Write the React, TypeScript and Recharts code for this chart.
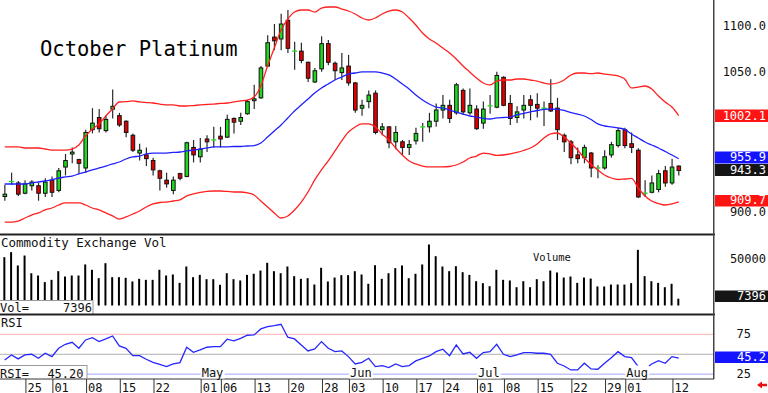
import React from "react";
import { ComposedChart, Bar, Line, XAxis, YAxis, ReferenceLine } from "recharts";

// daily candles, Mar 20 .. Aug 13
const open = [915.5, 931, 930, 919, 927, 927, 919, 933, 922, 947, 961, 955, 946, 987, 1000, 986, 1009, 1002, 996, 981, 962, 960, 954, 943, 933, 922, 940, 937, 968, 958, 977, 975.5, 980, 979, 999, 996, 1004, 1018, 1021, 1055, 1086, 1084, 1104, 1070.5, 1071, 1059, 1038, 1052, 1079, 1058, 1048, 1055, 1037, 1010, 1017, 1026, 987, 990, 974, 974, 968, 975, 989.5, 990, 996, 1008, 1013, 1005, 1029, 1005, 1009, 994, 1012, 1011, 1043, 1015, 1000, 1008, 1019, 1014, 1009.5, 1015, 1010, 981, 974, 960, 957, 962, 945.5, 946, 960, 970, 987, 972, 965, 918.5, 920, 923, 943, 930, 948];
const high = [928, 941, 932, 933, 933, 930, 935, 937, 946, 961, 968, 956, 987, 1010, 1009, 1002, 1030, 1005, 997, 983, 972, 968, 957, 944, 941, 937, 941, 974, 976, 978, 981, 990, 990, 1003, 1000, 1005, 1019, 1035, 1055, 1088, 1100, 1111, 1115, 1081, 1080, 1060, 1053, 1087, 1083, 1060, 1069, 1067, 1038, 1019, 1029, 1029, 994, 991, 991, 976, 976, 989, 994, 1005, 1015, 1024, 1019, 1037, 1031, 1031, 1013, 1017, 1024, 1049, 1044, 1024, 1012, 1024, 1024, 1026, 1017, 1041, 1021, 983, 976, 968, 971, 963, 949, 965, 974, 989, 989, 984, 967, 933, 938, 944, 948, 956, 949];
const low = [911, 928, 916, 918, 922, 911, 915, 915, 920, 938, 951, 940, 941, 983, 984, 984, 999, 990, 979, 963, 954, 948, 938, 922, 925, 918, 933, 936, 952, 952, 963, 968, 968, 978, 983, 992, 1003, 1009, 1020, 1054, 1072, 1072, 1069, 1051, 1058, 1038, 1037, 1049, 1056, 1040, 1040, 1034, 1005, 1002, 1010, 982, 981, 967, 966, 960, 960, 971, 974, 984, 990, 999, 994, 1003, 1003, 1003, 987, 988, 1004, 1010, 1012, 992, 994, 999, 997, 1000, 991, 1006, 976, 963, 950, 951, 951, 936, 935, 944, 957, 968, 967, 962, 914, 915, 919, 920, 926, 928, 938];
const close = [918, 931.5, 918, 929, 931, 919, 931, 920, 943, 954, 963, 951, 984, 994, 988, 998, 1012, 992, 984, 965, 965, 956, 944, 935, 929, 933, 935, 973, 960, 966, 974, 976, 977, 998, 995, 1000, 1017, 1020, 1053, 1080, 1082, 1100, 1074, 1071, 1061, 1042, 1050, 1079, 1059, 1050, 1053, 1037, 1008, 1013, 1024, 984, 990, 973, 984, 968, 971, 983, 990, 996, 1008, 1013, 999, 1035, 1006, 1013, 988, 1009, 1012.5, 1045, 1013, 999, 1006, 1013, 1013, 1010, 1010, 1007, 987, 974, 957, 956, 968, 946, 946, 958, 971, 986, 970, 968, 915, 919, 930, 940, 930, 947, 943.3];

// bollinger bands
const upper = [968.5, 968.5, 968.5, 967.4, 967.4, 967.4, 966.3, 965.2, 965.2, 965.2, 966.3, 970.6, 980.2, 987.7, 993.1, 1001.6, 1009.1, 1016.6, 1016.9, 1017.7, 1016.6, 1016, 1015.5, 1014.4, 1013.4, 1013.4, 1012.3, 1012.3, 1012.8, 1013.4, 1013.9, 1014.4, 1015, 1015.5, 1016.6, 1017.7, 1018.7, 1021.9, 1033.7, 1055.1, 1074.3, 1093.6, 1105.3, 1112.8, 1115, 1115, 1112.8, 1117.1, 1118.2, 1118.2, 1116, 1113.9, 1110.7, 1106.4, 1104.3, 1106.4, 1110.7, 1113.9, 1115, 1112.8, 1106.4, 1098.9, 1090.4, 1084, 1079.7, 1074.3, 1069, 1062.6, 1055.1, 1048.7, 1042.2, 1036.9, 1034.8, 1039, 1040.1, 1040.1, 1041.2, 1041.2, 1040.1, 1039, 1036.9, 1035.8, 1036.9, 1040.1, 1045.5, 1047.6, 1047.6, 1047, 1047.6, 1046.5, 1045.5, 1044.4, 1041.2, 1031.6, 1032.6, 1033.7, 1030.5, 1023, 1016.6, 1011.2, 1002.1];
const middle = [928.9, 928.9, 928.9, 928.9, 930, 931, 932.1, 933.2, 935.3, 936.4, 937.4, 939.6, 941.7, 943.9, 946, 948.1, 950.3, 952.4, 955.6, 957.8, 958.8, 961, 962, 962, 962, 962.6, 963.1, 964.2, 965.2, 966.3, 967.4, 968.5, 968.5, 968.5, 969, 969, 969.5, 970, 972.7, 979.1, 985.6, 992, 999.5, 1007, 1013.4, 1019.8, 1026.2, 1031.6, 1035.8, 1040.1, 1043.3, 1046.5, 1047.6, 1048.7, 1048.7, 1048.7, 1047.6, 1045.5, 1041.2, 1035.8, 1030.5, 1024, 1018.7, 1014.4, 1011.2, 1010.2, 1008, 1005.9, 1003.7, 1001.6, 1000.5, 999, 998.4, 999.5, 1000, 1000.5, 1002.7, 1004.3, 1005.9, 1007.5, 1008.6, 1009.1, 1008.6, 1007.5, 1005.3, 1003.7, 1001.6, 997.9, 993.1, 990.9, 989.9, 988.8, 987.2, 982.4, 978.1, 973.8, 970.6, 967.4, 963.6, 959.9, 955.9];
const lower = [888.2, 888.2, 889.3, 892.5, 895.7, 897.9, 901.1, 903.2, 906.4, 908.6, 908.6, 908.6, 906.4, 903.2, 901.1, 897.9, 894.7, 891.4, 893.6, 896.8, 900, 904.3, 907.5, 909.1, 909.6, 910.7, 911.8, 916.1, 918.2, 919.8, 920.9, 921.4, 921.4, 920.9, 920.3, 920.3, 919.3, 917.1, 910.7, 904.3, 897.9, 892.5, 894.7, 901.1, 909.6, 920.3, 933.2, 943.9, 953.5, 964.2, 974.9, 984.5, 989.9, 993.1, 993.1, 989.9, 982.4, 975.9, 967.4, 959.9, 953.5, 950.3, 948.1, 947.1, 947.1, 947.1, 947.6, 949.2, 952.4, 956.7, 958.8, 962, 961, 959.4, 959.9, 961, 962.6, 964.7, 967.4, 971.7, 978.1, 982.4, 983.4, 979.1, 972.7, 965.2, 956.7, 949.8, 943.9, 938.5, 935.3, 933.7, 934.2, 934.8, 924.6, 916.1, 910.7, 908, 906.4, 907.5, 909.7];

const volume = [52500, 58000, 43500, 54300, 35100, 32600, 25400, 27900, 37300, 31500, 32600, 32600, 44600, 38800, 29700, 46000, 30800, 30800, 30100, 26100, 29000, 27900, 27900, 38800, 32600, 33700, 24600, 42400, 30800, 33300, 28600, 28600, 22500, 35100, 28600, 27200, 33300, 34500, 38000, 46400, 37300, 35100, 42400, 31900, 29000, 29700, 22800, 41000, 26100, 30400, 33000, 33000, 37300, 33700, 23600, 43800, 29000, 35100, 40600, 43500, 29700, 34500, 44600, 66300, 53600, 42400, 37300, 42700, 36200, 33300, 26400, 24300, 21000, 38800, 27900, 27200, 19900, 26400, 19900, 28600, 26400, 38000, 35900, 30400, 31500, 24600, 30400, 29300, 20700, 20700, 22800, 22800, 22800, 24300, 60500, 31900, 26400, 24600, 19900, 23600, 7396];
const rsi = [42.9, 49.2, 44.2, 49.2, 50, 45, 51.3, 47.1, 57.5, 62.5, 65, 57.5, 67.9, 70.8, 65.8, 69.2, 72.9, 60.4, 57.5, 48.3, 48.3, 43.8, 40, 37.5, 34.6, 37.9, 39.6, 58.8, 52.5, 55.4, 58.8, 59.6, 59.6, 68.8, 66.7, 70, 73.8, 74.2, 81.7, 84.6, 85.8, 87.5, 71.3, 69.2, 61.7, 54.2, 56.7, 65.8, 57.5, 53.3, 54.2, 47.1, 37.9, 40, 45, 34.6, 35.8, 33.3, 37.9, 34.6, 35.8, 41.7, 45, 47.9, 53.3, 56.3, 48.3, 61.7, 50.4, 52.5, 45, 52.1, 53.3, 62.5, 50, 47.1, 49.2, 52.1, 52.1, 51.3, 51.3, 50, 38.8, 35.4, 30.4, 30.4, 38.8, 31.7, 31.3, 38.8, 45.8, 53.3, 47.1, 45.8, 34.6, 32, 37.9, 42.1, 38.8, 47.1, 45.2];

// date axis
const dayTicks = [3, 7, 12, 17, 22, 29, 32, 37, 42, 47, 51, 56, 61, 65, 70, 74, 79, 84, 89, 92, 99];
const dayLabels = ["25", "01", "08", "15", "22", "01", "06", "13", "20", "28", "03", "10", "17", "24", "01", "08", "15", "22", "29", "01", "12"];
const monthTicks = [29, 51, 70, 92];
const monthLabels = ["May", "Jun", "Jul", "Aug"];

// 950 and 1000 sit under the value boxes in the original, so only these show
const priceTicks = [900, 1050, 1100];
const volTicks = [0, 25000, 50000];
const rsiTicks = [25, 50, 75];

const rows = open.map((o, i) => ({
  i,
  open: o,
  high: high[i],
  low: low[i],
  close: close[i],
  upper: upper[i],
  middle: middle[i],
  lower: lower[i],
  vol: volume[i],
  rsi: rsi[i],
}));

const last = rows.length - 1;
const X_DOMAIN: [number, number] = [-0.7, 105.24];
const MONO = "'DejaVu Sans Mono', monospace";
const NOMARGIN = { top: 0, right: 0, bottom: 0, left: 0 };

function Candle(props: any) {
  const { x, y, width, height, payload } = props;
  if (x == null || !payload) return null;
  const cx = x + width / 2;
  const top = Math.min(y, y + height);
  const h = Math.abs(height);
  const range = payload.high - payload.low;
  const k = range > 0 ? h / range : 0;
  const yO = top + (payload.high - payload.open) * k;
  const yC = top + (payload.high - payload.close) * k;
  const up = payload.close >= payload.open;
  const bTop = Math.min(yO, yC);
  const bH = Math.abs(yC - yO);
  return (
    <g>
      <line x1={cx} x2={cx} y1={top} y2={top + h} stroke="#2a2a2a" strokeWidth={1.2} />
      {bH < 1.5 ? (
        <line x1={cx - 2.5} x2={cx + 2.5} y1={yC} y2={yC} stroke="#22e022" strokeWidth={1.4} />
      ) : (
        <rect x={cx - 1.8} y={bTop} width={3.6} height={bH} fill={up ? "#1fd81f" : "#e00000"} stroke="#111" strokeWidth={1} />
      )}
    </g>
  );
}

const rightTick = (end: number, fmt: (v: number) => string, dy = 4) => (p: any) => (
  <text x={end} y={p.y} dy={dy} textAnchor="end" fontFamily={MONO} fontSize={12} fill="#111">
    {fmt(p.payload.value)}
  </text>
);

function DateTick(p: any) {
  const v = p.payload.value;
  const k = dayTicks.indexOf(v);
  const m = monthTicks.indexOf(v);
  const x = p.x;
  return (
    <g>
      <line x1={x + 1} x2={x + 1} y1={64} y2={78} stroke="#333" strokeWidth={1} />
      <text x={x + 2.5} y={76.5} fontFamily={MONO} fontSize={12} fill="#111">
        {dayLabels[k]}
      </text>
      {m >= 0 && (
        <g>
          <rect x={x + 0.5} y={50.5} width={24} height={13} fill="#fff" />
          <text x={x + 1.5} y={61.5} fontFamily={MONO} fontSize={12} fill="#111">
            {monthLabels[m]}
          </text>
        </g>
      )}
    </g>
  );
}

function ValueBox({ y, h, fill, text }: { y: number; h: number; fill: string; text: string }) {
  return (
    <g>
      <rect x={715} y={y} width={53} height={h} fill={fill} />
      <text x={766} y={y + h - 2.3} textAnchor="end" fontFamily={MONO} fontSize={12} fill="#fff">
        {text}
      </text>
    </g>
  );
}

export default function App() {
  return (
    <div style={{ position: "absolute", left: 0, top: 0, width: 768, height: 393, background: "#fff", overflow: "hidden" }}>
      <div style={{ position: "absolute", left: 0, top: 0 }}>
        <ComposedChart width={768} height={234} data={rows} margin={NOMARGIN}>
          <XAxis dataKey="i" type="number" domain={X_DOMAIN} allowDataOverflow hide />
          <YAxis
            orientation="right"
            width={54}
            domain={[875.4, 1125.67]}
            allowDataOverflow
            ticks={priceTicks}
            axisLine={false}
            tickLine={false}
            tick={rightTick(766, (v) => v.toFixed(1), 5.5)}
          />
          <Line dataKey="upper" type="monotone" stroke="#ff2020" strokeWidth={1.3} dot={false} activeDot={false} isAnimationActive={false} />
          <Line dataKey="middle" type="monotone" stroke="#2020ff" strokeWidth={1.3} dot={false} activeDot={false} isAnimationActive={false} />
          <Line dataKey="lower" type="monotone" stroke="#ff2020" strokeWidth={1.3} dot={false} activeDot={false} isAnimationActive={false} />
          <Bar dataKey={(d: any) => [d.low, d.high]} barSize={5} shape={(p: any) => <Candle {...p} />} activeBar={false} isAnimationActive={false} />
        </ComposedChart>
      </div>

      <div style={{ position: "absolute", left: 0, top: 235 }}>
        <ComposedChart width={768} height={79} data={rows} margin={NOMARGIN}>
          <XAxis dataKey="i" type="number" domain={X_DOMAIN} allowDataOverflow hide />
          <YAxis
            orientation="right"
            width={54}
            domain={[-9240, 76630]}
            allowDataOverflow
            ticks={volTicks}
            axisLine={false}
            tickLine={false}
            tick={rightTick(766, (v) => String(v))}
          />
          <Bar dataKey="vol" barSize={2} fill="#000" activeBar={false} isAnimationActive={false} />
        </ComposedChart>
      </div>

      <div style={{ position: "absolute", left: 0, top: 315 }}>
        <ComposedChart width={768} height={78} data={rows} margin={NOMARGIN}>
          <YAxis
            orientation="right"
            width={54}
            domain={[19.1, 99.1]}
            allowDataOverflow
            ticks={rsiTicks}
            axisLine={false}
            tickLine={false}
            tick={rightTick(751, (v) => String(v))}
          />
          <ReferenceLine y={75} stroke="#ffb0b0" />
          <ReferenceLine y={50} stroke="#b0b0b0" />
          <ReferenceLine y={25} stroke="#c4c4ff" strokeWidth={1.5} />
          <Line dataKey="rsi" type="linear" stroke="#2626ff" strokeWidth={1.3} dot={false} activeDot={false} isAnimationActive={false} />
          <XAxis
            dataKey="i"
            type="number"
            domain={X_DOMAIN}
            allowDataOverflow
            height={14}
            ticks={dayTicks}
            interval={0}
            tickLine={false}
            axisLine={{ stroke: "#333" }}
            tick={DateTick}
          />
        </ComposedChart>
      </div>

      <svg width={768} height={393} style={{ position: "absolute", left: 0, top: 0, pointerEvents: "none" }}>
        <text x={40} y={55.5} fontFamily={MONO} fontSize={20.5} fill="#000">
          October Platinum
        </text>

        <text x={1} y={246.5} fontFamily={MONO} fontSize={12.5} fill="#111">
          Commodity Exchange Vol
        </text>
        <text x={533} y={260.5} fontFamily={MONO} fontSize={10.5} fill="#111">
          Volume
        </text>
        <rect x={-1} y={300.5} width={94} height={14} fill="#fff" stroke="#999" />
        <text x={0} y={311.5} fontFamily={MONO} fontSize={12} fill="#111">
          Vol=
        </text>
        <text x={92} y={311.5} textAnchor="end" fontFamily={MONO} fontSize={12} fill="#111">
          {String(volume[last])}
        </text>

        <text x={1} y={326.5} fontFamily={MONO} fontSize={12} fill="#111">
          RSI
        </text>
        <rect x={-1} y={365.5} width={88} height={13} fill="#fff" stroke="#999" />
        <text x={0} y={377.5} fontFamily={MONO} fontSize={12} fill="#111">
          RSI=
        </text>
        <text x={83.5} y={377.5} textAnchor="end" fontFamily={MONO} fontSize={12} fill="#111">
          {rsi[last].toFixed(2)}
        </text>

        <rect x={0} y={233.5} width={715} height={2} fill="#222" />
        <rect x={0} y={313.5} width={715} height={2} fill="#222" />
        <rect x={713} y={0} width={1.5} height={379} fill="#444" />

        <ValueBox y={109.5} h={12.5} fill="#ff1414" text={upper[last].toFixed(1)} />
        <ValueBox y={151.5} h={12} fill="#1414ff" text={middle[last].toFixed(1)} />
        <ValueBox y={164} h={12} fill="#151515" text={close[last].toFixed(1)} />
        <ValueBox y={195} h={11.5} fill="#ff1414" text={lower[last].toFixed(1)} />
        <ValueBox y={290.5} h={11.5} fill="#151515" text={String(volume[last])} />
        <ValueBox y={351.5} h={11.5} fill="#1414ff" text={rsi[last].toFixed(1)} />

        <polygon points="757,385 762,381.5 762,383.8 767,383.8 767,386.2 762,386.2 762,388.5" fill="#ee1111" />
      </svg>
    </div>
  );
}
